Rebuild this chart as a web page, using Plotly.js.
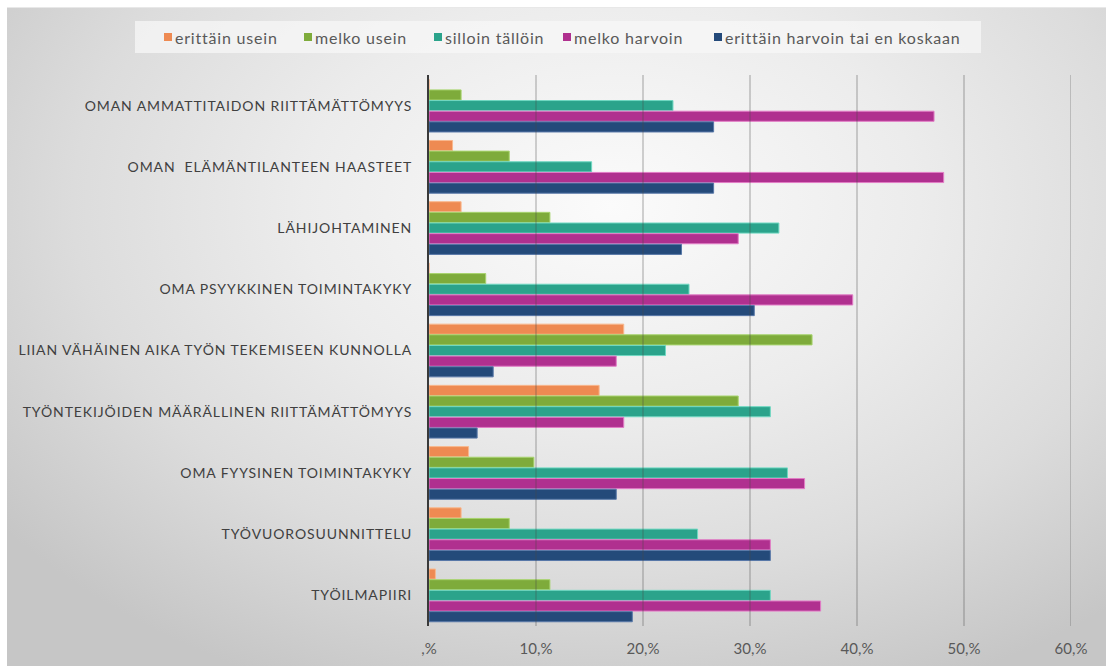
<!DOCTYPE html>
<html>
<head>
<meta charset="utf-8">
<script src="https://cdn.plot.ly/plotly-3.0.1.min.js"></script>
<style>
  html, body { margin: 0; padding: 0; background: #ffffff; width: 1106px; height: 666px; overflow: hidden; }
  #bg { position: absolute; left: 7px; top: 7px; width: 1099px; height: 659px;
        background: radial-gradient(ellipse 70% 80% at 55% 30%, #fbfbfb 0%, #ececec 40%, #dcdcdc 70%, #c6c6c6 100%);
        border-top: 1px solid #e8e8e8; }
  #chart { position: absolute; left: 0; top: 0; width: 1106px; height: 666px; }
  .ytick text { letter-spacing: 0.9px; }
  .annotation-text { letter-spacing: 0.8px; }
</style>
</head>
<body>
<div id="bg"></div>
<div id="chart"></div>
<script>
const categories = [
  "OMAN AMMATTITAIDON RIITTÄMÄTTÖMYYS",
  "OMAN \u00a0ELÄMÄNTILANTEEN HAASTEET",
  "LÄHIJOHTAMINEN",
  "OMA PSYYKKINEN TOIMINTAKYKY",
  "LIIAN VÄHÄINEN AIKA TYÖN TEKEMISEEN KUNNOLLA",
  "TYÖNTEKIJÖIDEN MÄÄRÄLLINEN RIITTÄMÄTTÖMYYS",
  "OMA FYYSINEN TOIMINTAKYKY",
  "TYÖVUOROSUUNNITTELU",
  "TYÖILMAPIIRI"
];
const seriesNames = ["erittäin usein", "melko usein", "silloin tällöin", "melko harvoin", "erittäin harvoin tai en koskaan"];
const erittainUsein    = [0,    2.2,  3.0,  0,    18.2, 15.9, 3.7,  3.0,  0.6];
const melkoUsein       = [3.0,  7.5,  11.3, 5.3,  35.8, 28.9, 9.8,  7.5,  11.3];
const silloinTalloin   = [22.8, 15.2, 32.7, 24.3, 22.1, 31.9, 33.5, 25.1, 31.9];
const melkoHarvoin     = [47.2, 48.1, 28.9, 39.6, 17.5, 18.2, 35.1, 31.9, 36.6];
const erittainHarvoin  = [26.6, 26.6, 23.6, 30.4, 6.0,  4.5,  17.5, 31.9, 19.0];
const tickVals = [0, 10, 20, 30, 40, 50, 60];
const tickText = [",%", "10,%", "20,%", "30,%", "40,%", "50,%", "60,%"];

const seriesValues = [erittainUsein, melkoUsein, silloinTalloin, melkoHarvoin, erittainHarvoin];
const fillColors = ["#ee8a52", "#7eab3b", "#2ba38b", "#b0308f", "#244a7a"];
const lineColors = ["#f8b88e", "#a8d46e", "#6fd8c2", "#e27cc6", "#5878a8"];

const font = "Lato, 'Open Sans', sans-serif";

// plot area geometry (pixels)
const W = 1106, H = 666;
const M = { l: 429, r: 35, t: 75, b: 40 };
const plotW = W - M.l - M.r, plotH = H - M.t - M.b;
const px = x => (x - M.l) / plotW;
const py = y => (H - M.b - y) / plotH;

const traces = seriesValues.map((vals, i) => ({
  type: "bar",
  orientation: "h",
  name: seriesNames[i],
  y: categories,
  x: vals,
  marker: { color: fillColors[i], line: { color: lineColors[i], width: 1 } },
  hoverinfo: "x+name",
  showlegend: false
}));

const gridShapes = tickVals.filter(v => v > 0).map(v => ({
  type: "line", xref: "x", yref: "paper", x0: v, x1: v, y0: 0, y1: 1,
  line: { color: "rgba(70,70,70,0.32)", width: 1.5 }, layer: "above"
}));

// legend (drawn as shapes + annotations)
const legendBox = { x0: 135, x1: 981, y0: 21, y1: 53 };
const legendSquareX = [164, 304, 434, 563, 714];
const legendCenterY = 37;
const legendShapes = [{
  type: "rect", xref: "paper", yref: "paper",
  x0: px(legendBox.x0), x1: px(legendBox.x1), y0: py(legendBox.y1), y1: py(legendBox.y0),
  fillcolor: "rgba(247,247,247,0.75)", line: { width: 0 }, layer: "below"
}].concat(legendSquareX.map((x, i) => ({
  type: "rect", xref: "paper", yref: "paper",
  x0: px(x), x1: px(x + 8), y0: py(legendCenterY + 4), y1: py(legendCenterY - 4),
  fillcolor: fillColors[i], line: { width: 0 }
})));
const legendAnnotations = legendSquareX.map((x, i) => ({
  xref: "paper", yref: "paper", x: px(x + 9), y: py(legendCenterY),
  xanchor: "left", yanchor: "middle", showarrow: false,
  text: seriesNames[i],
  font: { family: font, size: 16, color: "#595959" }
}));

const layout = {
  width: W, height: H,
  paper_bgcolor: "rgba(0,0,0,0)",
  plot_bgcolor: "rgba(0,0,0,0)",
  margin: { l: M.l, r: M.r, t: M.t, b: M.b, pad: 0, autoexpand: false },
  barmode: "group",
  bargap: 0.13,
  bargroupgap: 0.05,
  font: { family: font, color: "#404040" },
  showlegend: false,
  xaxis: {
    range: [0, 60],
    tickvals: tickVals,
    ticktext: tickText,
    showgrid: false,
    zeroline: false,
    showline: false,
    ticks: "",
    ticklabelstandoff: 12,
    tickfont: { family: font, size: 15, color: "#595959" },
    fixedrange: true
  },
  yaxis: {
    type: "category",
    autorange: "reversed",
    showgrid: false,
    zeroline: false,
    showline: true,
    linecolor: "#3a3a3a",
    linewidth: 2,
    ticks: "",
    ticklabelstandoff: 12,
    tickfont: { family: font, size: 14, color: "#404040" },
    fixedrange: true
  },
  shapes: gridShapes.concat(legendShapes),
  annotations: legendAnnotations
};

Plotly.newPlot("chart", traces, layout, { displayModeBar: false, staticPlot: true });
</script>
</body>
</html>
